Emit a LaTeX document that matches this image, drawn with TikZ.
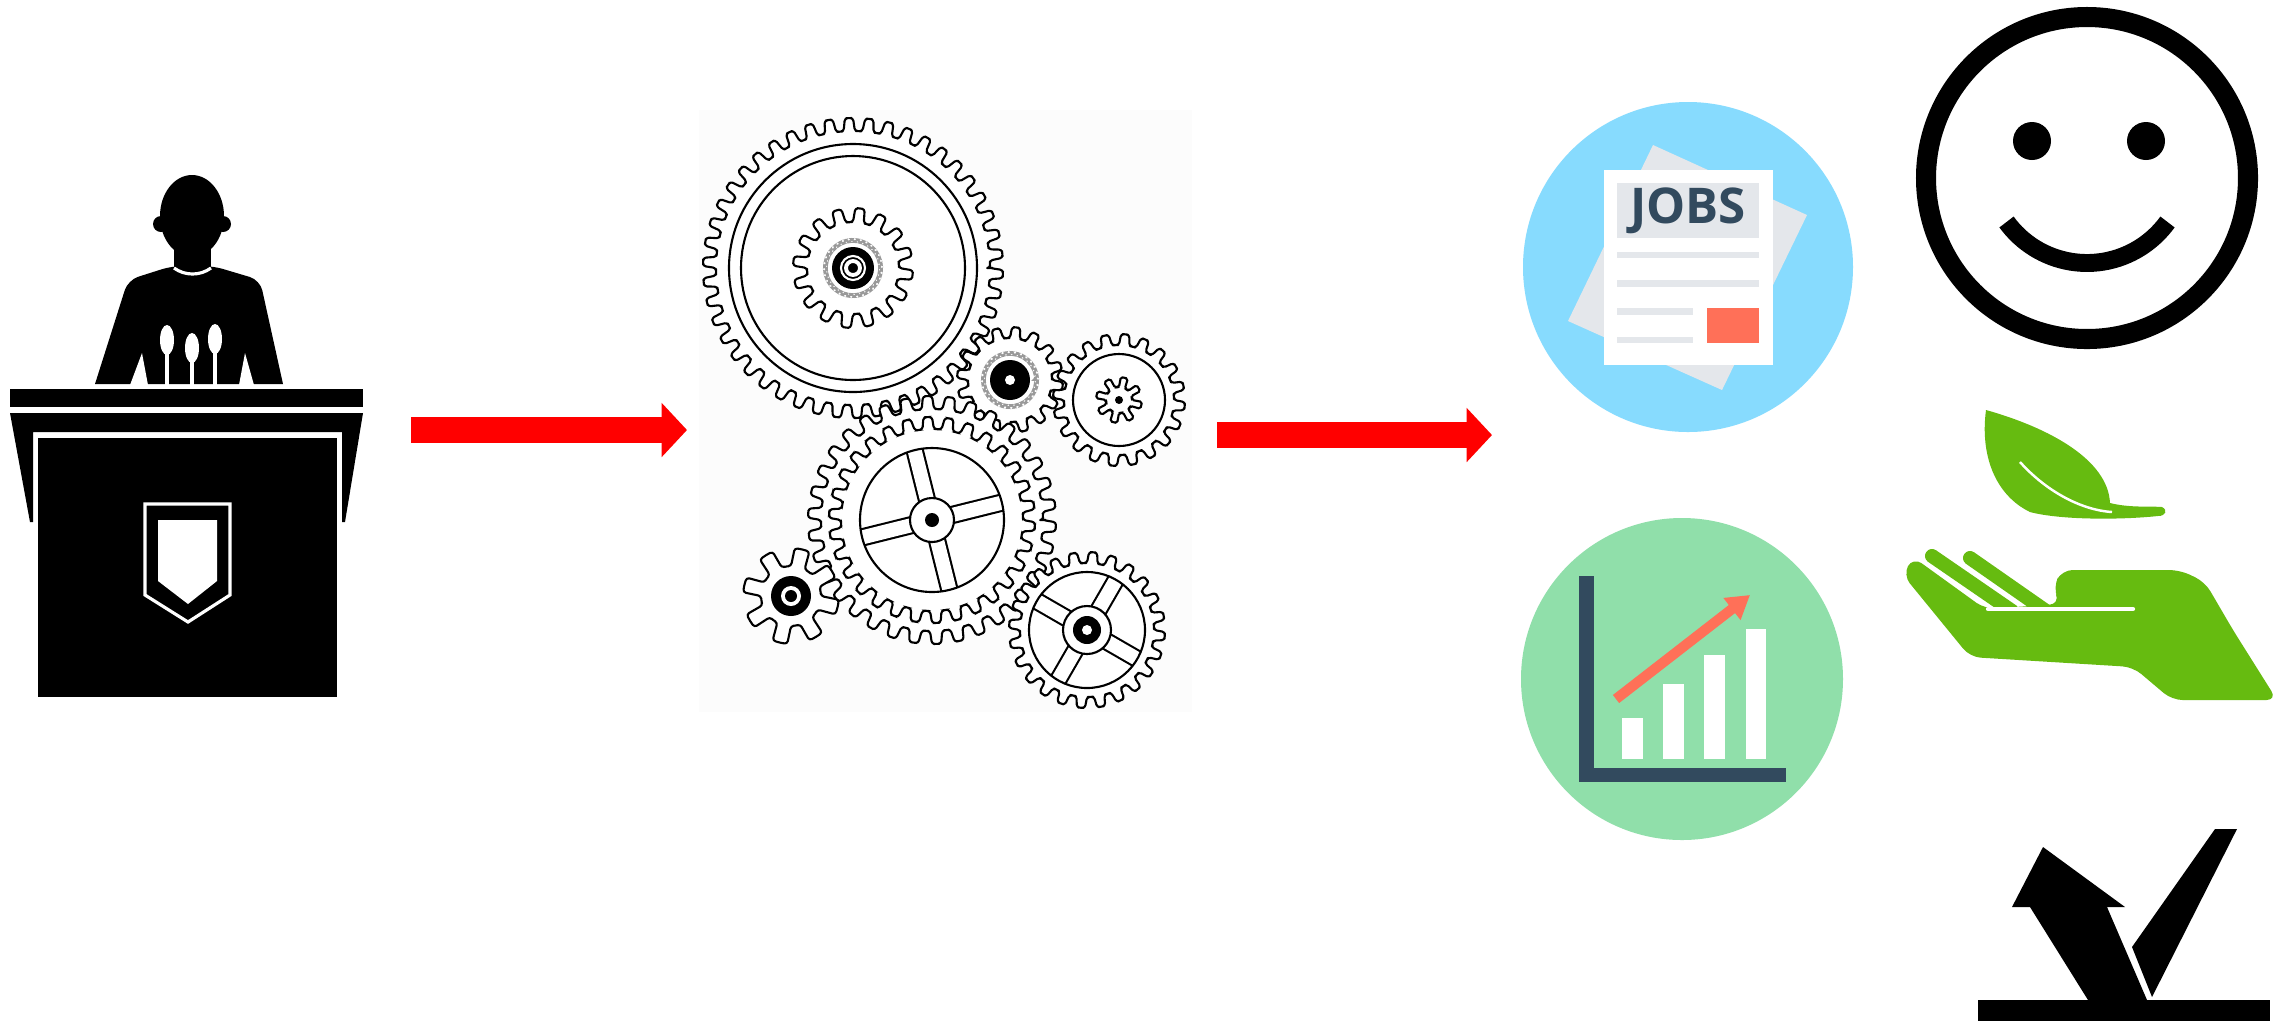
\documentclass[tikz,border=0pt]{standalone}
\usepackage{fontspec}
\usepackage{tikz}
\usetikzlibrary{arrows.meta}
\newfontfamily\jobsfont{Open Sans}
\definecolor{jobsblue}{HTML}{87DBFE}
\definecolor{paper}{HTML}{E4E7EB}
\definecolor{navy}{HTML}{324A5E}
\definecolor{coral}{HTML}{FF7058}
\definecolor{mint}{HTML}{90DFAA}
\definecolor{leafgreen}{HTML}{66BB10}
\newcommand{\gearoutline}[3]{%
  (0:#2) \foreach \k in {1,...,#1} {
    -- ({(360/#1)*(\k-0.8)}:#2)
    -- ({(360/#1)*(\k-0.6)}:#2)
    -- ({(360/#1)*(\k-0.5)}:#3)
    -- ({(360/#1)*(\k-0.3)}:#3)
    -- ({(360/#1)*(\k-0.1)}:#3)
    -- ({(360/#1)*\k}:#2)
  } -- cycle}

\begin{document}
\begin{tikzpicture}[x=0.01cm, y=0.01cm,
  flowarrow/.style={red, line width=7.4pt, -{Triangle[length=7.2pt, width=15pt]}},
  gearline/.style={line width=0.6pt, fill=white, line join=round, rounded corners=0.8pt},
  fineteeth/.style={line width=0.5pt, black!40, rounded corners=0.5pt},
  spokeout/.style={line width=5.2pt},
  spokein/.style={white, line width=4pt}]
\useasboundingbox (0,0) rectangle (2293,-1020);
\fill[white] (0,0) rectangle (2293,-1020);

\fill (192,-216) ellipse[x radius=32, y radius=41];
\fill (161,-224) circle[radius=8];
\fill (223,-224) circle[radius=8];
\fill (174,-245) rectangle (211,-272);
\fill (95,-384) [rounded corners=3pt] -- (128,-280) -- (172,-266) -- (213,-266) -- (260,-280) [sharp corners] -- (283,-384) -- cycle;
\draw[white, line width=0.9pt] (174,-268) .. controls (185,-276) and (200,-276) .. (211,-268);
\fill[white] (142,-353) -- (130,-385) -- (148,-385) -- cycle;
\fill[white] (245,-353) -- (239,-385) -- (254,-385) -- cycle;
\foreach \mx/\my in {167/340, 192/348, 215/339} {
  \fill[white] (\mx,-\my) ellipse[x radius=7, y radius=15];
  \draw[white, line width=1.2pt] (\mx,-\my) -- (\mx,-385);
}
\fill (10,-389) rectangle (363,-407);
\fill (10,-413) -- (363,-413) -- (345,-522) -- (342,-522) -- (342,-432) -- (33,-432) -- (33,-522) -- (30,-522) -- cycle;
\fill (38,-438) rectangle (337,-697);
\draw[white, line width=0.9pt] (145,-504) -- (230,-504) -- (230,-595) -- (188,-622) -- (145,-595) -- cycle;
\fill[white] (158,-520) -- (217,-520) -- (217,-581) -- (188,-604) -- (158,-581) -- cycle;

\fill[black!1] (699,-110) rectangle (1192,-712);

\draw[gearline, shift={(853,-268)}] \gearoutline{46}{137}{150};
\draw[line width=0.6pt] (853,-268) circle[radius=124] circle[radius=112];
\draw[gearline, shift={(853,-268)}] \gearoutline{16}{46}{60};
\draw[fineteeth, shift={(853,-268)}] \gearoutline{30}{26}{29};
\fill (853,-268) circle[radius=21];
\draw[white, line width=0.6pt] (853,-268) circle[radius=12];
\draw[white, line width=1.1pt] (853,-268) circle[radius=7];

\draw[gearline, shift={(1119,-400)}] \gearoutline{20}{55}{66};
\draw[line width=0.6pt] (1119,-400) circle[radius=46];
\draw[line width=0.6pt, rounded corners=0.5pt, shift={(1119,-400)}] \gearoutline{8}{13}{23};
\fill (1119,-400) circle[radius=4];

\draw[gearline, shift={(1010,-380)}] \gearoutline{16}{42}{53};
\draw[fineteeth, shift={(1010,-380)}] \gearoutline{28}{25}{28};
\fill (1010,-380) circle[radius=20];
\fill[white] (1010,-380) circle[radius=5];

\draw[gearline, shift={(932,-520)}] \gearoutline{34}{111}{124};
\draw[line width=0.6pt, rounded corners=0.8pt, shift={(932,-520)}] \gearoutline{30}{91}{103};
\foreach \a in {14,104,194,284} {
  \draw[spokeout] (932,-520) -- ++(\a:72);
  \draw[spokein] (932,-520) -- ++(\a:72);
}
\draw[line width=0.6pt] (932,-520) circle[radius=72];
\draw[gearline] (932,-520) circle[radius=22];
\fill (932,-520) circle[radius=7];

\draw[gearline, shift={(1087,-630)}] \gearoutline{24}{67}{78};
\foreach \a in {60,150,240,330} {
  \draw[spokeout] (1087,-630) -- ++(\a:58);
  \draw[spokein] (1087,-630) -- ++(\a:58);
}
\draw[line width=0.6pt] (1087,-630) circle[radius=58];
\draw[gearline] (1087,-630) circle[radius=24];
\fill (1087,-630) circle[radius=14];
\fill[white] (1087,-630) circle[radius=5];

\draw[gearline, shift={(791,-596)}] \gearoutline{8}{30}{48};
\fill (791,-596) circle[radius=20];
\fill[white] (791,-596) circle[radius=10];
\fill (791,-596) circle[radius=6];

\coordinate (speakerout) at (411,-430);
\coordinate (gearsin) at (687,-430);
\coordinate (gearsout) at (1217,-435);
\coordinate (effectsin) at (1492,-435);
\draw[flowarrow] (speakerout) -- (gearsin);
\draw[flowarrow] (gearsout) -- (effectsin);

\fill[jobsblue] (1688,-267) circle[radius=165];
\fill[paper] (1653,-145) -- (1807,-215) -- (1722,-390) -- (1568,-321) -- cycle;
\fill[white] (1604,-170) rectangle (1773,-365);
\fill[paper] (1617,-183) rectangle (1759,-238);
\node[font=\jobsfont\bfseries\fontsize{14}{14}\selectfont, text=navy, inner sep=0] (jobs) at (1688,-211) {JOBS};
\fill[paper] (1617,-252) rectangle (1759,-258);
\fill[paper] (1617,-280) rectangle (1759,-287);
\fill[paper] (1617,-308) rectangle (1693,-315);
\fill[paper] (1617,-337) rectangle (1693,-343);
\fill[coral] (1707,-308) rectangle (1759,-343);

\fill[mint] (1682,-679) circle[radius=161];
\fill[navy] (1579,-576) rectangle (1594,-782);
\fill[navy] (1579,-768) rectangle (1786,-782);
\fill[white] (1622,-718) rectangle (1643,-759);
\fill[white] (1663,-684) rectangle (1684,-759);
\fill[white] (1704,-655) rectangle (1725,-759);
\fill[white] (1746,-629) rectangle (1766,-759);
\draw[coral, line width=2.9pt, -{Triangle[length=6.5pt, width=7.5pt]}] (1616,-699) -- (1750,-595);

\draw[line width=5.7pt] (2087,-178) circle[radius=161];
\fill (2032,-141) circle[radius=19];
\fill (2146,-141) circle[radius=19];
\draw[line width=5.1pt] plot[domain=-144:-36, samples=40] ({2087+99.5*cos(\x)}, {-163.5+99.5*sin(\x)});

\fill[leafgreen] (1986,-410) .. controls (2050,-428) and (2108,-460) .. (2110,-503) .. controls (2130,-508) and (2150,-506) .. (2162,-507) .. controls (2168,-510) and (2166,-516) .. (2158,-516) .. controls (2120,-520) and (2060,-520) .. (2030,-512) .. controls (1995,-495) and (1980,-455) .. cycle;
\draw[white, line width=0.7pt] (2020,-462) .. controls (2045,-490) and (2080,-510) .. (2112,-512);
\fill[leafgreen, rounded corners=3pt] (1903,-575) -- (1913,-557) -- (1985,-609) -- (2060,-604) -- (2053,-587) -- (2062,-570) -- (2180,-570) -- (2205,-582) -- (2233,-630) -- (2277,-700) -- (2172,-700) -- (2133,-667) -- (1970,-657) -- cycle;
\draw[leafgreen, line width=4pt, line cap=round] (1932,-556) -- (2012,-611);
\draw[leafgreen, line width=4pt, line cap=round] (1970,-558) -- (2046,-611);
\draw[white, line width=1.2pt, line cap=round] (1988,-609) -- (2133,-609);

\fill (1978,-1000) rectangle (2270,-1025);
\fill (2088,-1000) -- (2030,-907) -- (2012,-907) -- (2043,-847) -- (2125,-907) -- (2107,-907) -- (2147,-1000) -- cycle;
\fill (2132,-947) -- (2215,-829) -- (2237,-829) -- (2152,-997) -- cycle;
\end{tikzpicture}
\end{document}
